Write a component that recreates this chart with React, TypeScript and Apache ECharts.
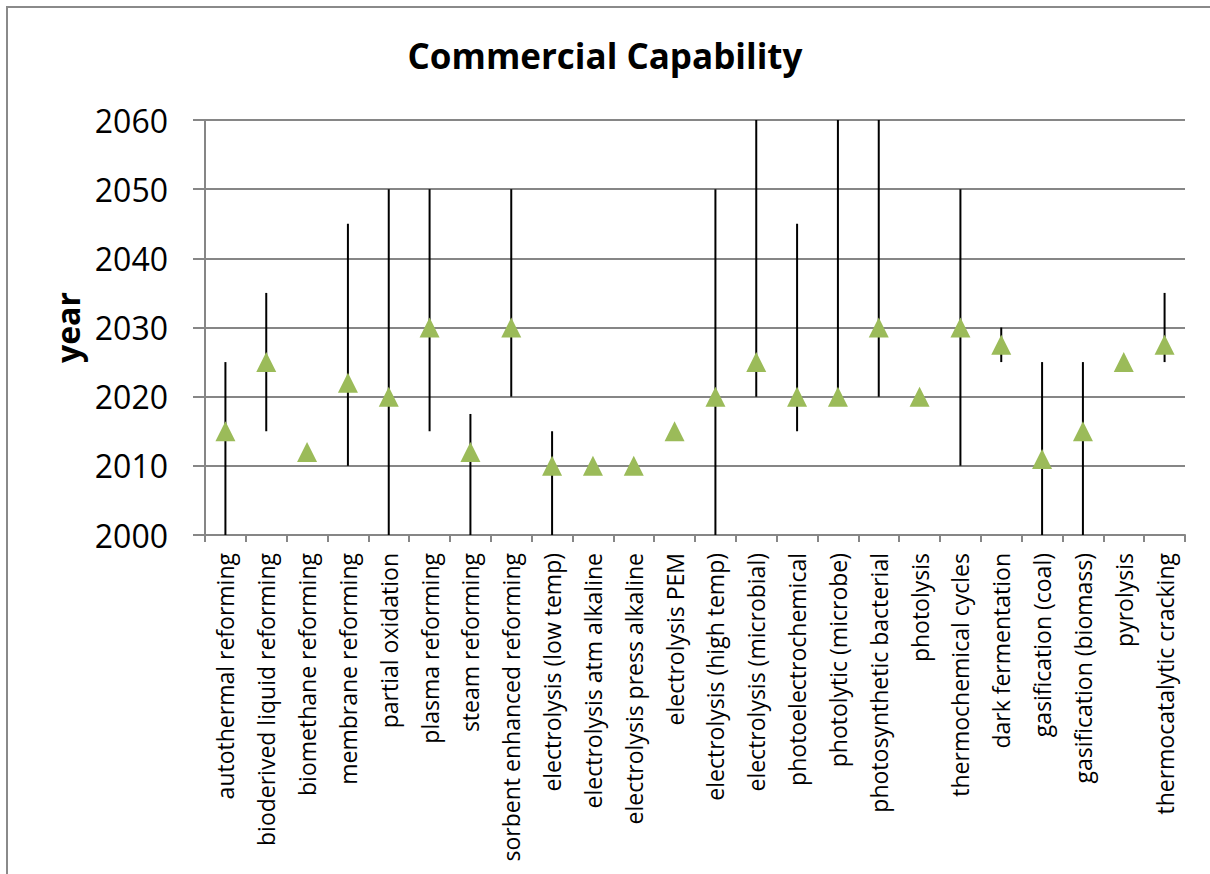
import React, { useEffect, useRef } from "react";
import * as echarts from "echarts";

const categories = [
  "autothermal reforming",
  "bioderived liquid reforming",
  "biomethane reforming",
  "membrane reforming",
  "partial oxidation",
  "plasma reforming",
  "steam reforming",
  "sorbent enhanced reforming",
  "electrolysis (low temp)",
  "electrolysis atm alkaline",
  "electrolysis press alkaline",
  "electrolysis PEM",
  "electrolysis (high temp)",
  "electrolysis (microbial)",
  "photoelectrochemical",
  "photolytic (microbe)",
  "photosynthetic bacterial",
  "photolysis",
  "thermochemical cycles",
  "dark fermentation",
  "gasification (coal)",
  "gasification (biomass)",
  "pyrolysis",
  "thermocatalytic cracking",
];

const years = [
  2015, 2025, 2012, 2022, 2020, 2030, 2012, 2030, 2010, 2010, 2010, 2015,
  2020, 2025, 2020, 2020, 2030, 2020, 2030, 2027.5, 2011, 2015, 2025, 2027.5,
];

const lows: (number | null)[] = [
  2000, 2015, null, 2010, 2000, 2015, 2000, 2020, 2000, null, null, null,
  2000, 2020, 2015, 2020, 2020, null, 2010, 2025, 2000, 2000, null, 2025,
];

const highs: (number | null)[] = [
  2025, 2035, null, 2045, 2050, 2050, 2017.5, 2050, 2015, null, null, null,
  2050, 2060, 2045, 2060, 2060, null, 2050, 2030, 2025, 2025, null, 2035,
];

const yTicks = { min: 2000, max: 2060, interval: 10 };

const FONT = "Open Sans";

export default function App() {
  const ref = useRef<HTMLDivElement>(null);

  useEffect(() => {
    if (!ref.current) return;
    const chart = echarts.init(ref.current, undefined, { renderer: "svg" });

    const ranges: number[][] = [];
    categories.forEach((_, i) => {
      const lo = lows[i];
      const hi = highs[i];
      if (lo !== null && hi !== null) ranges.push([i, lo, hi]);
    });

    chart.setOption({
      animation: false,
      backgroundColor: "#ffffff",
      graphic: [
        {
          type: "rect",
          shape: { x: 7, y: 7, width: 1230, height: 900 },
          style: { fill: "none", stroke: "#8a8a8a", lineWidth: 2 },
          silent: true,
          z: -10,
        },
      ],
      title: {
        text: "Commercial Capability",
        left: "center",
        top: 33,
        textStyle: {
          fontFamily: FONT,
          fontWeight: "bold",
          fontSize: 35,
          color: "#000",
        },
      },
      grid: { left: 205, right: 25, top: 120, bottom: 339, containLabel: false },
      xAxis: {
        type: "category",
        data: categories,
        boundaryGap: true,
        axisLine: { show: true, lineStyle: { color: "#868686", width: 2 } },
        axisTick: {
          show: true,
          alignWithLabel: false,
          length: 7,
          lineStyle: { color: "#868686", width: 2 },
        },
        axisLabel: {
          rotate: 90,
          interval: 0,
          margin: 18,
          fontFamily: FONT,
          fontSize: 23,
          color: "#000",
        },
        splitLine: { show: false },
      },
      yAxis: {
        type: "value",
        min: yTicks.min,
        max: yTicks.max,
        interval: yTicks.interval,
        name: "year",
        nameLocation: "middle",
        nameRotate: 90,
        nameGap: 118,
        nameTextStyle: {
          fontFamily: FONT,
          fontWeight: "bold",
          fontSize: 32,
          color: "#000",
        },
        axisLine: { show: true, lineStyle: { color: "#868686", width: 2 } },
        axisTick: {
          show: true,
          inside: false,
          length: 12,
          lineStyle: { color: "#868686", width: 2 },
        },
        axisLabel: {
          margin: 37,
          fontFamily: FONT,
          fontSize: 32,
          color: "#000",
          formatter: (v: number) => String(v),
        },
        splitLine: { show: true, lineStyle: { color: "#868686", width: 2 } },
      },
      series: [
        {
          type: "custom",
          name: "range",
          data: ranges,
          encode: { x: 0, y: [1, 2] },
          z: 2,
          renderItem: (params: any, api: any) => {
            const i = api.value(0);
            const p1 = api.coord([i, api.value(1)]);
            const p2 = api.coord([i, api.value(2)]);
            return {
              type: "line",
              shape: { x1: p1[0], y1: p1[1], x2: p2[0], y2: p2[1] },
              style: { stroke: "#000000", lineWidth: 2 },
            };
          },
        },
        {
          type: "scatter",
          name: "year",
          data: years,
          symbol: "triangle",
          symbolSize: 20,
          itemStyle: { color: "#9BBB59", opacity: 1 },
          z: 3,
        },
      ],
    });

    return () => chart.dispose();
  }, []);

  return (
    <div
      ref={ref}
      style={{ position: "absolute", left: 0, top: 0, width: 1210, height: 874 }}
    />
  );
}
